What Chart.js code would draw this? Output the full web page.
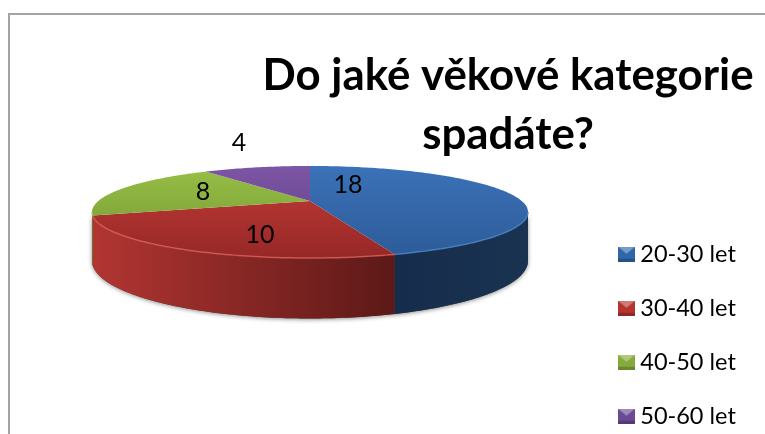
<!DOCTYPE html>
<html lang="cs">
<head>
<meta charset="utf-8">
<title>Věkové kategorie</title>
<script src="https://cdn.jsdelivr.net/npm/chart.js@4/dist/chart.umd.min.js"></script>
<style>
    html, body { margin: 0; padding: 0; background: #fff; overflow: hidden; }
    #wrap { position: relative; width: 765px; height: 434px; }
    #frame { position: absolute; left: 8px; top: 13px; right: 0; bottom: 0; border-top: 2px solid #a3a3a3; border-left: 2px solid #a3a3a3; }
    #ageChart { position: absolute; left: 0; top: 0; }
</style>
</head>
<body>
<div id="wrap">
    <div id="frame"></div>
    <canvas id="ageChart" width="765" height="434"></canvas>
</div>
<script>
const categories = ["20-30 let", "30-40 let", "40-50 let", "50-60 let"];
const answers = [18, 10, 8, 4];
const titleLines = ["Do jaké věkové kategorie", "spadáte?"];

// top face: [far colour, near colour]
const faceColors = [["#3b72b8", "#2d5b98"], ["#c43c37", "#962827"], ["#98bf46", "#729632"], ["#7d55a5", "#5a3f80"]];
// side wall: [left colour, right colour]
const wallColors = [["#162c4c", "#1a3351"], ["#b23532", "#5c1917"], ["#7a9a38", "#6d8a32"], ["#5a3f80", "#4b3569"]];
const rimColors = ["#4c86c8", "#dc5f59", "#a9cc5c", "#8a64b2"];
const swatchColors = ["#2f67a8", "#b5342f", "#86aa3c", "#6a4a94"];

// label offsets from the pie centre
const labelOffsets = [[38, -16], [-50, 34], [-107, -9], [-71, -58]];

// perspective of the tilted disc
const tilt = { cx: 310, cy: 201, bx: 211.7, by: 43.4, k: 0.239, depth: 46 };
const fontName = "Lato, Carlito, Calibri, sans-serif";

function project(angle, r, drop) {
    const theta = angle + Math.PI / 2;
    const x = r * Math.sin(theta);
    const z = r * Math.cos(theta);
    const w = 1 + tilt.k * z;
    return {
        x: tilt.cx + tilt.bx * x / w,
        y: tilt.cy - tilt.by * z / w + (drop || 0) / w
    };
}

function traceRim(ctx, from, to, drop, reverse) {
    const steps = Math.max(2, Math.ceil((to - from) * 60));
    for (let i = 0; i <= steps; i++) {
        const t = reverse ? 1 - i / steps : i / steps;
        const p = project(from + (to - from) * t, 1, drop);
        ctx.lineTo(p.x, p.y);
    }
}

function linear(ctx, x0, y0, x1, y1, colors) {
    const g = ctx.createLinearGradient(x0, y0, x1, y1);
    g.addColorStop(0, colors[0]);
    g.addColorStop(1, colors[1]);
    return g;
}

const tiltedPie = {
    id: "tiltedPie",
    afterLayout(chart) {
        // title and legend sit beside the pie, not around it
        const title = chart.titleBlock;
        title.left = 250; title.right = 766; title.top = 47; title.bottom = 163;
        const legend = chart.legend;
        legend.maxHeight = 434;
        legend.fit();
        legend.left = 594; legend.top = 212;
        legend.right = legend.left + legend.width;
        legend.bottom = legend.top + legend.height;
    },
    beforeDatasetsDraw(chart) {
        const ctx = chart.ctx;
        const arcs = chart.getDatasetMeta(0).data;
        // only this stretch of the rim faces the viewer
        const wallFrom = Math.acos(-tilt.k) - Math.PI / 2;
        const wallTo = 2 * Math.PI - Math.acos(-tilt.k) - Math.PI / 2;

        ctx.save();
        // soft shadow under the whole wall
        ctx.save();
        ctx.shadowColor = "rgba(0,0,0,0.45)";
        ctx.shadowBlur = 4;
        ctx.shadowOffsetY = 1;
        ctx.fillStyle = "#444";
        ctx.beginPath();
        traceRim(ctx, wallFrom, wallTo, 0, false);
        traceRim(ctx, wallFrom, wallTo, tilt.depth, true);
        ctx.closePath();
        ctx.fill();
        ctx.restore();

        arcs.forEach((arc, i) => {
            const a = Math.max(arc.startAngle, wallFrom);
            const b = Math.min(arc.endAngle, wallTo);
            if (a >= b) return;
            const left = Math.min(project(a, 1).x, project(b, 1).x);
            const right = Math.max(project(a, 1).x, project(b, 1).x);
            ctx.fillStyle = linear(ctx, left, 0, right, 0, wallColors[i]);
            ctx.beginPath();
            traceRim(ctx, a, b, 0, false);
            traceRim(ctx, a, b, tilt.depth, true);
            ctx.closePath();
            ctx.fill();
        });

        arcs.forEach((arc, i) => {
            ctx.fillStyle = linear(ctx, 0, tilt.cy - tilt.by * 0.81, 0, tilt.cy + tilt.by * 1.31, faceColors[i]);
            ctx.beginPath();
            ctx.moveTo(tilt.cx, tilt.cy);
            traceRim(ctx, arc.startAngle, arc.endAngle, 0, false);
            ctx.closePath();
            ctx.fill();
        });

        // bevel line on the front edge
        arcs.forEach((arc, i) => {
            const a = Math.max(arc.startAngle, wallFrom);
            const b = Math.min(arc.endAngle, wallTo);
            if (a >= b) return;
            ctx.strokeStyle = rimColors[i];
            ctx.globalAlpha = 0.8;
            ctx.lineWidth = 1.5;
            ctx.beginPath();
            traceRim(ctx, a, b, 0, false);
            ctx.stroke();
            ctx.globalAlpha = 1;
        });

        // value labels
        ctx.fillStyle = "#000";
        ctx.font = "25px " + fontName;
        ctx.textAlign = "center";
        ctx.textBaseline = "middle";
        answers.forEach((value, i) => {
            ctx.fillText(String(value), tilt.cx + labelOffsets[i][0], tilt.cy + labelOffsets[i][1]);
        });
        ctx.restore();
        return false;
    }
};

// small bevelled legend key
function makeSwatch(color) {
    const c = document.createElement("canvas");
    c.width = 17;
    c.height = 15;
    const g = c.getContext("2d");
    g.fillStyle = color;
    g.fillRect(0, 0, 17, 15);
    g.fillStyle = "rgba(255,255,255,0.35)";
    g.beginPath();
    g.moveTo(0, 0); g.lineTo(17, 0); g.lineTo(8.5, 7); g.closePath();
    g.fill();
    g.fillStyle = "rgba(0,0,0,0.2)";
    g.fillRect(0, 12, 17, 3);
    return c;
}

new Chart(document.getElementById("ageChart"), {
    type: "pie",
    data: {
        labels: categories,
        datasets: [{ data: answers, backgroundColor: swatchColors, borderWidth: 0 }]
    },
    plugins: [tiltedPie],
    options: {
        responsive: false,
        animation: false,
        plugins: {
            tooltip: { enabled: false },
            title: {
                display: true,
                text: titleLines,
                color: "#000",
                font: { family: fontName, size: 43.8, weight: "bold", lineHeight: 1.33 },
                padding: 0
            },
            legend: {
                position: "right",
                align: "start",
                labels: {
                    color: "#000",
                    font: { family: fontName, size: 23.5 },
                    usePointStyle: true,
                    pointStyleWidth: 4,
                    padding: 30.5,
                    generateLabels(chart) {
                        const items = Chart.overrides.pie.plugins.legend.labels.generateLabels(chart);
                        items.forEach((item, i) => { item.pointStyle = makeSwatch(swatchColors[i]); });
                        return items;
                    }
                }
            }
        }
    }
});
</script>
</body>
</html>
